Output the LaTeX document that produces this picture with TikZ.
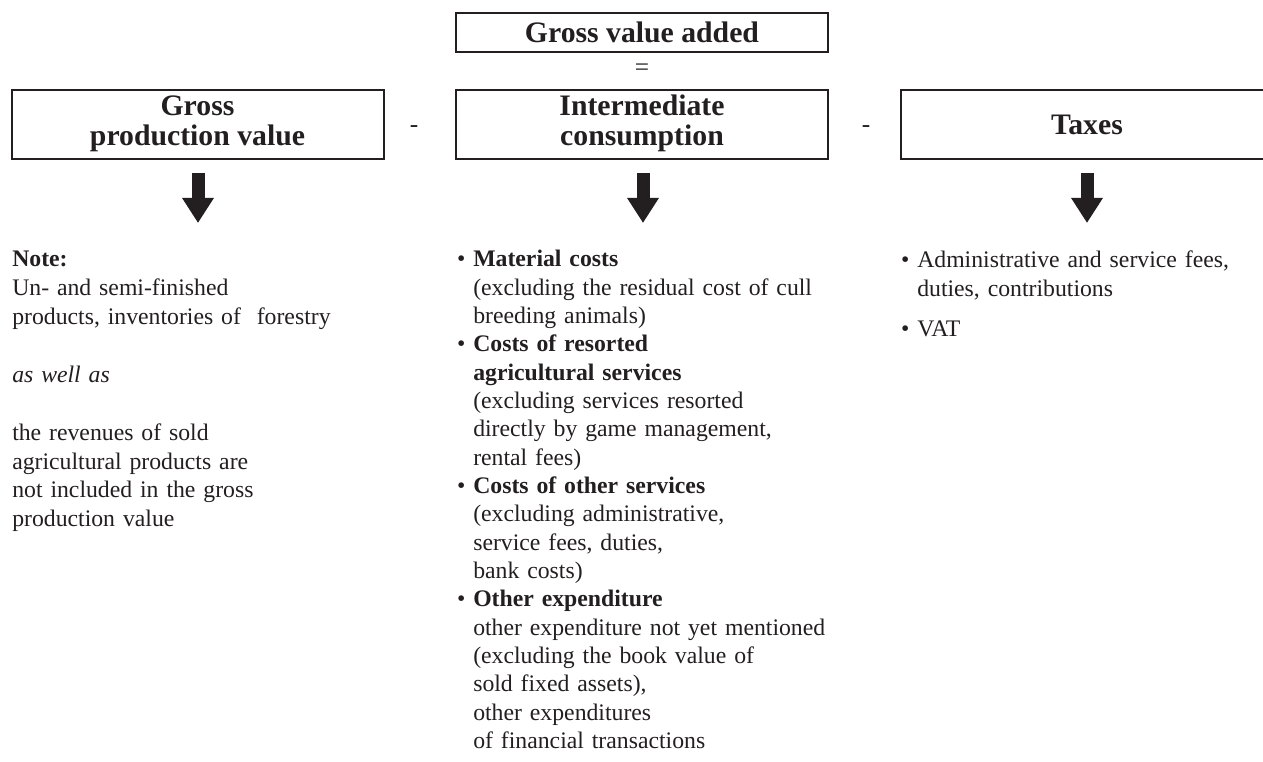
\documentclass[tikz,border=0pt]{standalone}
\usepackage{fontspec}
\setmainfont{Liberation Serif}
\usetikzlibrary{arrows.meta,calc}
\definecolor{ink}{HTML}{231F20}
\newcommand{\bul}{\leavevmode\llap{•\ }}
\newcommand{\twoline}[2]{\raisebox{-4.5pt}{\begin{tabular}{@{}c@{}}#1\\#2\end{tabular}}}
\begin{document}
\begin{tikzpicture}[x=0.75pt,y=-0.75pt,
  hbox/.style={draw=ink, line width=1.5pt, inner sep=0pt, font=\fontsize{22.3}{21.9}\selectfont\bfseries, text=ink, align=center, minimum width=279pt},
  body/.style={font=\fontsize{17.8}{21.25}\selectfont, text=ink, align=left, inner sep=0pt, anchor=base west},
  sign/.style={font=\fontsize{19}{21}\selectfont, text=ink, inner sep=0pt},
  bigarrow/.style={draw=ink, line width=9.75pt, -{Triangle[width=22.5pt,length=18.75pt]}},
  ]
\useasboundingbox (0,0) rectangle (1263,762);
% heading boxes
\node[hbox, minimum height=29.25pt] (gva) at (642,32.5) {Gross value added};
\node[sign] (eq) at (642,70) {=};
\node[hbox, minimum height=51.75pt] (gpv) at (197.5,124.5) {\twoline{Gross}{production value}};
\node[hbox, minimum height=51.75pt] (ic) at (642,124.5) {\twoline{Intermediate}{consumption}};
\node[hbox, minimum height=51.75pt] (tax) at (1087,124.5) {Taxes};
\node[sign] (m1) at (414,129) {-};
\node[sign] (m2) at (866,129) {-};
% arrow ends
\coordinate (e1) at (198,223);
\coordinate (e2) at (643,223);
\coordinate (e3) at (1087,223);
\draw[bigarrow] ($(gpv.south)+(0.5,13)$) -- (e1);
\draw[bigarrow] ($(ic.south)+(1,13)$) -- (e2);
\draw[bigarrow] ($(tax.south)+(0,13)$) -- (e3);
% text blocks
\node[body, text width=300pt, font=\fontsize{17.8}{21.65}\selectfont] (note) at (12,267) {\textbf{Note:}\\
Un- and semi-finished\\
products, inventories of\ \ forestry\\[21.65pt]
\textit{as well as}\\[21.65pt]
the revenues of sold\\
agricultural products are\\
not included in the gross\\
production value};
\node[body, text width=290pt] (icl) at (473,267) {\bul\textbf{Material costs}\\
(excluding the residual cost of cull\\
breeding animals)\\
\bul\textbf{Costs of resorted}\\
\textbf{agricultural services}\\
(excluding services resorted\\
directly by game management,\\
rental fees)\\
\bul\textbf{Costs of other services}\\
(excluding administrative,\\
service fees, duties,\\
bank costs)\\
\bul\textbf{Other expenditure}\\
other expenditure not yet mentioned\\
(excluding the book value of\\
sold fixed assets),\\
other expenditures\\
of financial transactions};
\node[body, text width=260pt] (txl) at (917,268) {\bul Administrative and service fees,\\
duties, contributions\\[9pt]
\bul VAT};
\end{tikzpicture}
\end{document}
